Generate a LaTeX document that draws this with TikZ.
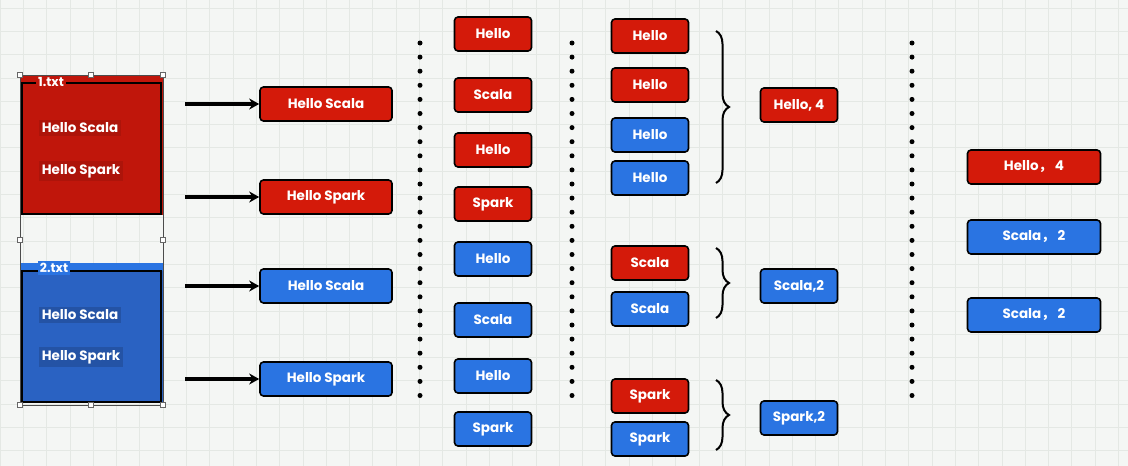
\documentclass[tikz,border=0pt]{standalone}
\usepackage{fontspec}
\setmainfont{Poppins}
\newfontfamily\cjk{Noto Sans CJK SC}
\usepackage{xcolor}
\usetikzlibrary{calc}
\usetikzlibrary{arrows.meta}
\usetikzlibrary{decorations.pathreplacing}

\definecolor{sheet}{HTML}{F4F6F4}
\definecolor{gridline}{HTML}{E4E8E4}
\definecolor{redbox}{HTML}{D41A0A}
\definecolor{bluebox}{HTML}{2A74E2}
\definecolor{redfile}{HTML}{C0160B}
\definecolor{bluefile}{HTML}{2A62C2}

\begin{document}
\begin{tikzpicture}[x=1pt,y=-1pt]
    \tikzstyle{word}=[draw=black,line width=1.6pt,rounded corners=3.5pt,text=white,font=\fontsize{13.5}{15}\selectfont\bfseries,inner sep=0pt,minimum height=34pt]
    \tikzstyle{line box}=[style=word,minimum width=132pt]
    \tikzstyle{word box}=[style=word,minimum width=77pt]
    \tikzstyle{count box}=[style=word,minimum width=133pt]
    \tikzstyle{file text}=[text=white,font=\fontsize{13.5}{15}\selectfont\bfseries,inner sep=3pt]
    \tikzstyle{file title}=[text=white,font=\fontsize{12.5}{14}\selectfont\bfseries,inner sep=2pt]
    \tikzstyle{feed}=[-{Stealth[length=10pt,width=11pt]},line width=3.4pt,color=black]
    \tikzstyle{divider}=[line width=5pt,line cap=round,dash pattern=on 0pt off 14.1pt,color=black]
    \tikzstyle{group}=[decorate,decoration={brace,amplitude=13pt},line width=2pt,color=black]
    \tikzstyle{handle}=[draw=black!60,fill=white,line width=0.6pt,minimum size=5pt,inner sep=0pt]

    % Sheet
    \useasboundingbox (0,0) rectangle (1128,466);
    \fill[sheet] (0,0) rectangle (1128,466);
    \foreach \gx in {0,23.3,...,1128} \draw[gridline,line width=0.8pt] (\gx,0) -- (\gx,466);
    \foreach \gy in {8,31.3,...,466} \draw[gridline,line width=0.8pt] (0,\gy) -- (1128,\gy);

    % Files
    \fill[redfile] (20,75) rectangle (163,215);
    \draw[line width=2pt] (22,83) rectangle (161,214);
    \node[style=file title,fill=redfile] (title1) at (51,82) {1.txt};
    \node[style=file text,fill=redfile!90!black] (text1) at (80,128) {Hello Scala};
    \node[style=file text,fill=redfile!90!black] (text2) at (81,171) {Hello Spark};

    \fill[bluefile] (20,263) rectangle (163,403);
    \fill[bluebox] (20,263) rectangle (163,271);
    \draw[line width=2pt] (22,271) rectangle (161,402);
    \node[style=file title,fill=bluebox] (title2) at (54,268) {2.txt};
    \node[style=file text,fill=bluefile!85!black] (text3) at (80,315) {Hello Scala};
    \node[style=file text,fill=bluefile!85!black] (text4) at (81,357) {Hello Spark};

    % Selection
    \draw[black!70,line width=0.6pt] (20,75) rectangle (163,405);
    \foreach \hx/\hy in {20/75,91/75,163/75,20/240,163/240,20/405,91/405,163/405}
        \node[style=handle] at (\hx,\hy) {};

    % Lines
    \node[style=line box,fill=redbox] (line1) at (326,104) {Hello Scala};
    \node[style=line box,fill=redbox] (line2) at (326,197) {Hello Spark};
    \node[style=line box,fill=bluebox] (line3) at (326,286) {Hello Scala};
    \node[style=line box,fill=bluebox] (line4) at (326,379) {Hello Spark};

    \coordinate (tail1) at (185,104);
    \coordinate (tail2) at (185,197);
    \coordinate (tail3) at (185,286);
    \coordinate (tail4) at (185,379);
    \foreach \i in {1,...,4} \draw[style=feed] (tail\i) -- (line\i.west);

    % Dividers
    \draw[style=divider] (420,43) -- (420,407);
    \draw[style=divider] (572,43) -- (572,407);
    \draw[style=divider] (912,43) -- (912,407);

    % Words
    \foreach \y/\w/\c [count=\i] in {34/Hello/redbox,95/Scala/redbox,150/Hello/redbox,204/Spark/redbox,
                                     259/Hello/bluebox,320/Scala/bluebox,376/Hello/bluebox,429/Spark/bluebox}
        \node[style=word box,fill=\c] (split\i) at (493,\y) {\w};

    % Groups
    \foreach \y/\w/\c [count=\i] in {36/Hello/redbox,85/Hello/redbox,135/Hello/bluebox,178/Hello/bluebox,
                                     263/Scala/redbox,309/Scala/bluebox,396/Spark/redbox,439/Spark/bluebox}
        \node[style=word box,fill=\c] (sort\i) at (650,\y) {\w};

    \coordinate (brace1 top) at (716,31);
    \coordinate (brace1 end) at (716,183);
    \coordinate (brace2 top) at (716,248);
    \coordinate (brace2 end) at (716,318);
    \coordinate (brace3 top) at (716,380);
    \coordinate (brace3 end) at (716,450);
    \foreach \i in {1,2,3} \draw[style=group] (brace\i\space top) -- (brace\i\space end);

    \node[style=word box,fill=redbox] (sum1) at (799,105) {Hello, 4};
    \node[style=word box,fill=bluebox] (sum2) at (799,286) {Scala,2};
    \node[style=word box,fill=bluebox] (sum3) at (799,418) {Spark,2};

    % Result
    \node[style=count box,fill=redbox] (out1) at (1034,167) {Hello{\cjk ，} 4};
    \node[style=count box,fill=bluebox] (out2) at (1034,237) {Scala{\cjk ，} 2};
    \node[style=count box,fill=bluebox] (out3) at (1034,315) {Scala{\cjk ，} 2};

\end{tikzpicture}
\end{document}
